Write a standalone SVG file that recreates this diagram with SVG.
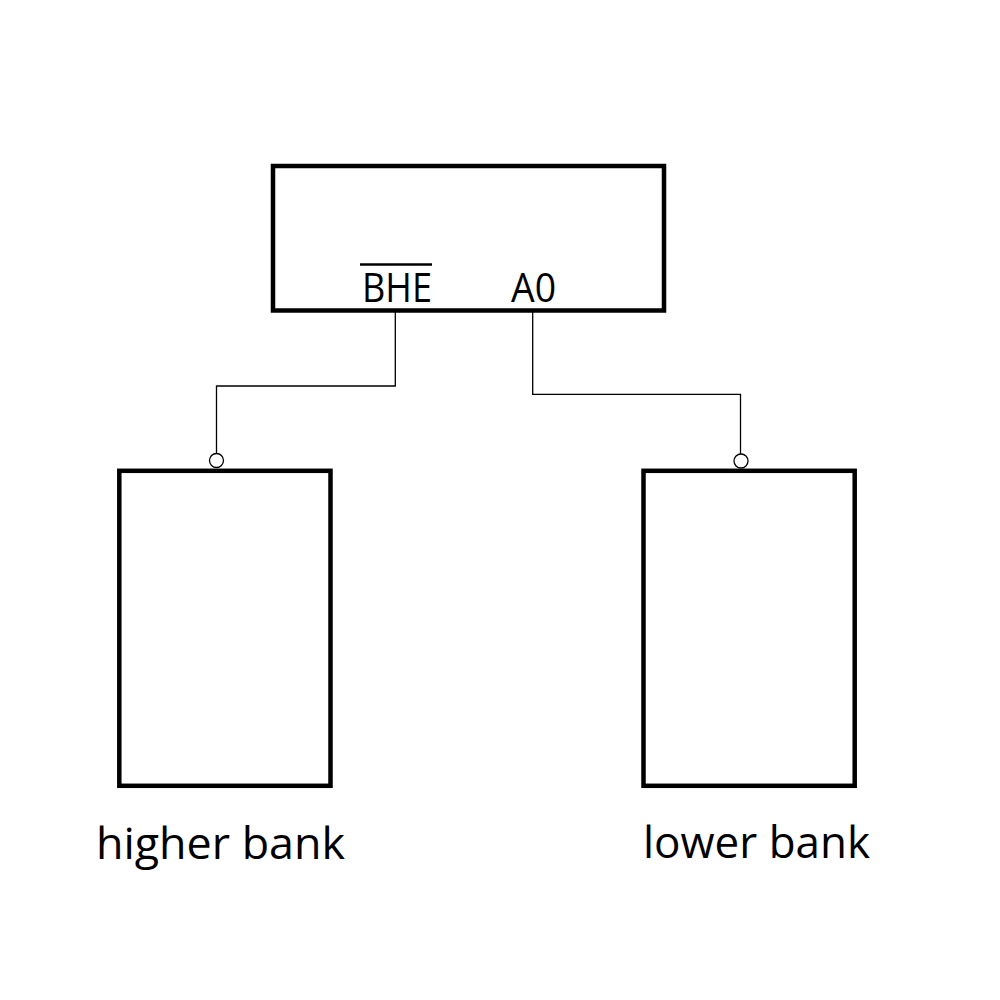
<svg xmlns="http://www.w3.org/2000/svg" width="1000" height="1000" viewBox="0 0 1000 1000">
<style>
.box{fill:none;stroke:#000;stroke-width:4.5}
.wire{fill:none;stroke:#000;stroke-width:1.3}
.bubble{fill:#fff;stroke:#000;stroke-width:1.3}
.lbl{font-family:"Open Sans","Liberation Sans",sans-serif;fill:#000}
</style>
<rect width="1000" height="1000" fill="#fff"/>
<g id="cpu">
<rect class="box" x="273" y="166" width="391" height="144.5"/>
<text class="lbl" x="362" y="302" font-size="40" textLength="70" lengthAdjust="spacingAndGlyphs">BHE</text>
<line x1="360" y1="264.5" x2="432" y2="264.5" stroke="#000" stroke-width="2.5"/>
<text class="lbl" x="511" y="302" font-size="40" textLength="45" lengthAdjust="spacingAndGlyphs">A0</text>
</g>
<g id="higher-bank">
<rect class="box" x="119.3" y="470.8" width="211.2" height="315"/>
<text class="lbl" x="96" y="859" font-size="44" textLength="249" lengthAdjust="spacingAndGlyphs">higher bank</text>
</g>
<g id="lower-bank">
<rect class="box" x="643.5" y="470.8" width="211.2" height="315"/>
<text class="lbl" x="643" y="858" font-size="44" textLength="227" lengthAdjust="spacingAndGlyphs">lower bank</text>
</g>
<g id="connectors">
<path class="wire" d="M395.3,312 V386 H216.5 V453.5"/>
<circle class="bubble" cx="216.5" cy="460.5" r="7"/>
<path class="wire" d="M532.7,312 V394.3 H740.5 V454"/>
<circle class="bubble" cx="741" cy="461" r="7"/>
</g>
</svg>
